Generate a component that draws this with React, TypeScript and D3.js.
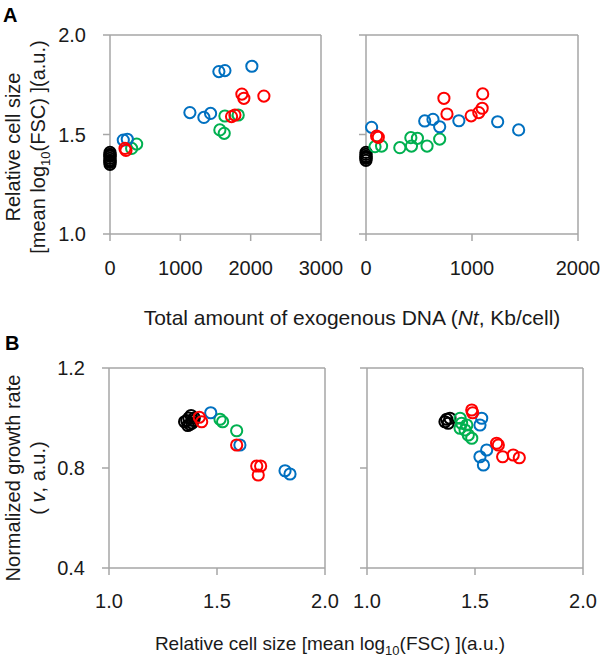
import React from 'react';
import * as d3 from 'd3';

// colours of the four strain groups
const BLACK = '#000000';
const BLUE = '#0070C0';
const GREEN = '#00B050';
const RED = '#FF0000';

// Panel A, left: [Nt (Kb/cell), relative cell size]
const aLeftBlack = [[0, 1.35], [0, 1.36], [0, 1.37], [0, 1.38], [0, 1.39], [0, 1.40], [0, 1.41], [0, 1.365], [0, 1.395]];
const aLeftGreen = [[379, 1.452], [308, 1.43], [1634, 1.593], [1823, 1.598], [1562, 1.523], [1624, 1.506]];
const aLeftBlue = [[189, 1.472], [246, 1.476], [1548, 1.816], [1634, 1.821], [2017, 1.843], [1136, 1.61], [1335, 1.586], [1430, 1.606]];
const aLeftRed = [[227, 1.42], [213, 1.43], [1875, 1.703], [1903, 1.682], [2188, 1.693], [1728, 1.59], [1776, 1.598]];

// Panel A, right
const aRightBlack = [[0, 1.37], [0, 1.38], [0, 1.39], [0, 1.40], [0, 1.41], [0, 1.385]];
const aRightGreen = [[85, 1.439], [147, 1.442], [319, 1.434], [423, 1.484], [485, 1.481], [429, 1.442], [576, 1.442], [695, 1.477]];
const aRightBlue = [[53, 1.536], [554, 1.568], [632, 1.576], [695, 1.539], [876, 1.569], [1242, 1.564], [1440, 1.523]];
const aRightRed = [[100, 1.492], [116, 1.486], [735, 1.682], [764, 1.603], [992, 1.594], [1064, 1.61], [1096, 1.632], [1101, 1.704]];

// Panel B, left: [relative cell size, normalized growth rate]
const bLeftBlack = [[1.36, 0.99], [1.37, 1.0], [1.375, 0.975], [1.385, 0.98], [1.35, 0.985], [1.39, 0.99], [1.38, 1.01], [1.365, 0.97], [1.395, 1.0]];
const bLeftGreen = [[1.514, 0.995], [1.526, 0.985], [1.591, 0.949]];
const bLeftBlue = [[1.471, 1.021], [1.606, 0.892], [1.815, 0.789], [1.838, 0.776]];
const bLeftRed = [[1.418, 1.003], [1.429, 0.985], [1.591, 0.892], [1.684, 0.808], [1.702, 0.808], [1.691, 0.772]];

// Panel B, right
const bRightBlack = [[1.369, 0.995], [1.361, 0.985], [1.384, 0.999], [1.376, 0.979]];
const bRightGreen = [[1.431, 0.999], [1.438, 0.979], [1.431, 0.959], [1.454, 0.952], [1.469, 0.932], [1.485, 0.919], [1.462, 0.972]];
const bRightBlue = [[1.531, 0.999], [1.523, 0.972], [1.554, 0.872], [1.523, 0.845], [1.539, 0.812]];
const bRightRed = [[1.485, 1.032], [1.489, 1.021], [1.6, 0.899], [1.608, 0.892], [1.628, 0.845], [1.677, 0.852], [1.705, 0.841]];

const aLeftXTicks = [0, 1000, 2000, 3000];
const aRightXTicks = [0, 1000, 2000];
const aYTicks = [1.0, 1.5, 2.0];
const bXTicks = [1.0, 1.5, 2.0];
const bYTicks = [0.4, 0.8, 1.2];

const AXIS = '#a6a6a6';
const INK = '#1a1a1a';
const FONT = 'Liberation Sans, Arial, Helvetica, sans-serif';

type Pt = number[];

function Panel({ xDomain, xRange, yDomain, yRange, xTicks, yTicks, xFmt, yFmt, showY, xLabelY, groups }: any) {
  const x = d3.scaleLinear().domain(xDomain).range(xRange);
  const y = d3.scaleLinear().domain(yDomain).range(yRange);
  const [x0, x1] = xRange;
  const [yb, yt] = yRange;
  return (
    <g>
      {/* frame */}
      <line x1={x0} x2={x1} y1={yt} y2={yt} stroke={AXIS} strokeWidth={1.5} />
      <line x1={x1} x2={x1} y1={yt} y2={yb} stroke={AXIS} strokeWidth={1.5} />
      <line x1={x0} x2={x0} y1={yt} y2={yb} stroke={AXIS} strokeWidth={1.5} />
      <line x1={x0} x2={x1} y1={yb} y2={yb} stroke={AXIS} strokeWidth={1.5} />
      {yTicks.map((t: number) => (
        <g key={'y' + t}>
          <line x1={x0 - 7} x2={x0} y1={y(t)} y2={y(t)} stroke={AXIS} strokeWidth={1.5} />
          {showY && (
            <text x={x0 - 24} y={y(t)} dy="0.36em" textAnchor="end" fontSize={20} fill={INK}>{yFmt(t)}</text>
          )}
        </g>
      ))}
      {xTicks.map((t: number) => (
        <g key={'x' + t}>
          <line x1={x(t)} x2={x(t)} y1={yb} y2={yb + 7} stroke={AXIS} strokeWidth={1.5} />
          <text x={x(t)} y={xLabelY} textAnchor="middle" fontSize={20} fill={INK}>{xFmt(t)}</text>
        </g>
      ))}
      {groups.map((g: any, i: number) => (
        <g key={i}>
          {g.pts.map((p: Pt, j: number) => (
            <circle key={j} cx={x(p[0])} cy={y(p[1])} r={5.6} fill="none" stroke={g.color} strokeWidth={2} />
          ))}
        </g>
      ))}
    </g>
  );
}

export default function App() {
  const f1 = d3.format('.1f');
  const f0 = d3.format('d');
  return (
    <svg width={600} height={658} style={{ display: 'block', position: 'absolute', left: 0, top: 0, background: '#fff' }} fontFamily={FONT}>
      <rect width={600} height={658} fill="#fff" />
      <text x={3} y={22} fontSize={20} fontWeight="bold">A</text>
      <text x={5} y={350} fontSize={20} fontWeight="bold">B</text>

      <Panel xDomain={[0, 3000]} xRange={[110, 321]} yDomain={[1, 2]} yRange={[234, 35]}
        xTicks={aLeftXTicks} yTicks={aYTicks} xFmt={f0} yFmt={f1} showY xLabelY={275}
        groups={[{ pts: aLeftBlack, color: BLACK }, { pts: aLeftGreen, color: GREEN }, { pts: aLeftBlue, color: BLUE }, { pts: aLeftRed, color: RED }]} />
      <Panel xDomain={[0, 2000]} xRange={[366, 578]} yDomain={[1, 2]} yRange={[234, 35]}
        xTicks={aRightXTicks} yTicks={aYTicks} xFmt={f0} yFmt={f1} showY={false} xLabelY={275}
        groups={[{ pts: aRightBlack, color: BLACK }, { pts: aRightGreen, color: GREEN }, { pts: aRightBlue, color: BLUE }, { pts: aRightRed, color: RED }]} />
      <Panel xDomain={[1, 2]} xRange={[109, 325]} yDomain={[0.4, 1.2]} yRange={[568, 368]}
        xTicks={bXTicks} yTicks={bYTicks} xFmt={f1} yFmt={f1} showY xLabelY={608}
        groups={[{ pts: bLeftBlack, color: BLACK }, { pts: bLeftGreen, color: GREEN }, { pts: bLeftBlue, color: BLUE }, { pts: bLeftRed, color: RED }]} />
      <Panel xDomain={[1, 2]} xRange={[367, 583]} yDomain={[0.4, 1.2]} yRange={[568, 368]}
        xTicks={bXTicks} yTicks={bYTicks} xFmt={f1} yFmt={f1} showY={false} xLabelY={608}
        groups={[{ pts: bRightBlack, color: BLACK }, { pts: bRightGreen, color: GREEN }, { pts: bRightBlue, color: BLUE }, { pts: bRightRed, color: RED }]} />

      {/* axis titles */}
      <text x={352} y={325} textAnchor="middle" fontSize={21} fill={INK}>
        Total amount of exogenous DNA (<tspan fontStyle="italic">Nt</tspan>, Kb/cell)
      </text>
      <text x={330} y={650} textAnchor="middle" fontSize={19} fill={INK}>
        Relative cell size [mean log<tspan fontSize={13} dy={5}>10</tspan><tspan dy={-5}>(FSC) ](a.u.)</tspan>
      </text>
      <g transform="translate(20,147) rotate(-90)">
        <text textAnchor="middle" fontSize={20} fill={INK}>Relative cell size</text>
      </g>
      <g transform="translate(45,147) rotate(-90)">
        <text textAnchor="middle" fontSize={20} fill={INK}>
          [mean log<tspan fontSize={13} dy={5}>10</tspan><tspan dy={-5}>(FSC) ](a.u.)</tspan>
        </text>
      </g>
      <g transform="translate(20,478) rotate(-90)">
        <text textAnchor="middle" fontSize={20} fill={INK}>Normalized growth rate</text>
      </g>
      <g transform="translate(45,478) rotate(-90)">
        <text textAnchor="middle" fontSize={20} fill={INK}>
          ( <tspan fontStyle="italic">v</tspan>, a.u.)
        </text>
      </g>
    </svg>
  );
}
